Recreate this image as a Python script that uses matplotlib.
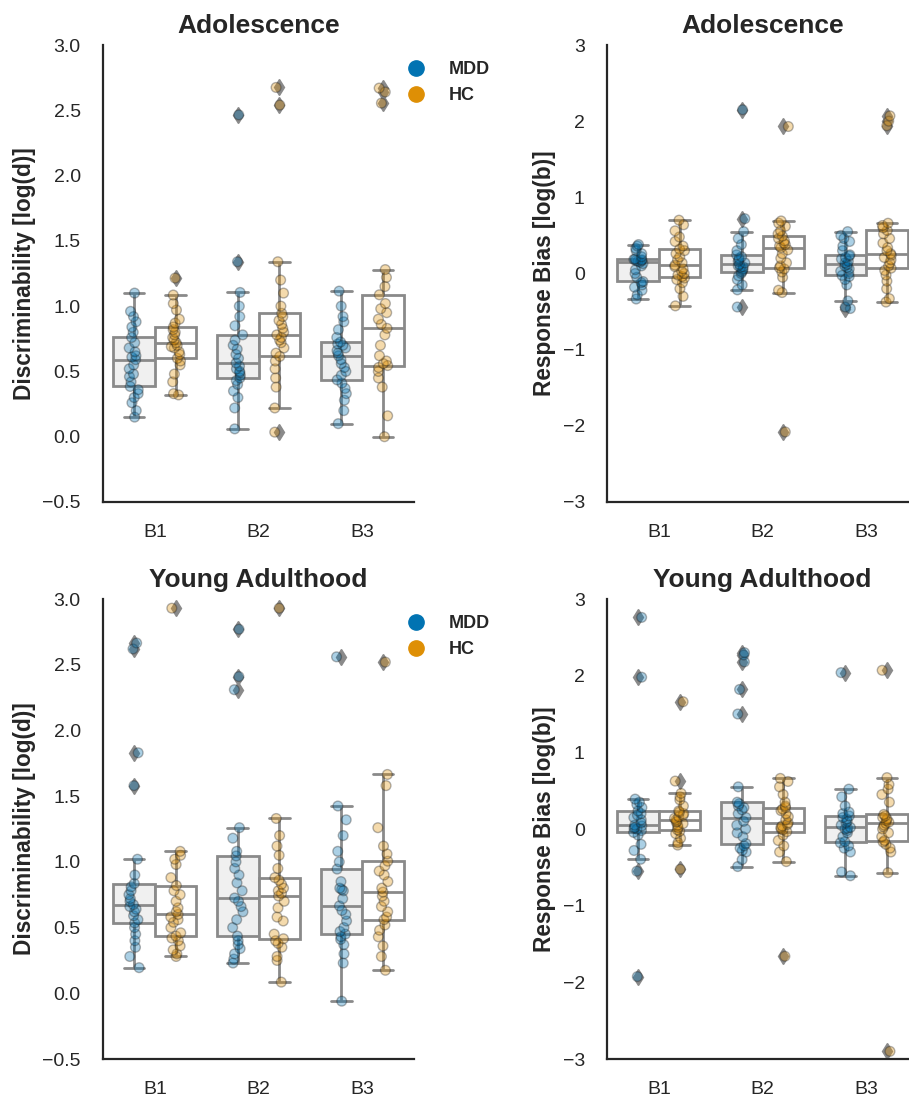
import numpy as np
import pandas as pd
import matplotlib
matplotlib.use("Agg")
import matplotlib.pyplot as plt
from matplotlib.lines import Line2D
import seaborn as sns

# ---------------- data ----------------
blocks = ["B1", "B2", "B3"]
groups = ["MDD", "HC"]

# Adolescence - Discriminability log(d)
adol_d_mdd_b1 = [0.15, 0.20, 0.26, 0.30, 0.33, 0.36, 0.385, 0.42, 0.46, 0.48, 0.52, 0.55, 0.59,
                 0.61, 0.62, 0.65, 0.68, 0.72, 0.76, 0.80, 0.84, 0.88, 0.92, 0.96, 1.10]
adol_d_hc_b1 = [0.32, 0.33, 0.42, 0.48, 0.55, 0.58, 0.60, 0.63, 0.65, 0.68, 0.69, 0.70, 0.72,
                0.74, 0.76, 0.78, 0.80, 0.82, 0.84, 0.87, 0.90, 0.97, 1.02, 1.085, 1.215]
adol_d_mdd_b2 = [0.06, 0.22, 0.30, 0.35, 0.40, 0.43, 0.45, 0.47, 0.49, 0.50, 0.52, 0.54, 0.565,
                 0.60, 0.63, 0.67, 0.70, 0.74, 0.78, 0.85, 0.92, 1.00, 1.105, 1.34, 2.465]
adol_d_hc_b2 = [0.035, 0.22, 0.38, 0.45, 0.52, 0.58, 0.615, 0.64, 0.68, 0.72, 0.74, 0.76, 0.78,
                0.80, 0.83, 0.86, 0.89, 0.92, 0.945, 1.00, 1.10, 1.20, 1.34, 2.54, 2.675]
adol_d_mdd_b3 = [0.10, 0.20, 0.28, 0.33, 0.37, 0.41, 0.435, 0.47, 0.50, 0.53, 0.56, 0.59, 0.62,
                 0.64, 0.66, 0.68, 0.70, 0.71, 0.725, 0.76, 0.82, 0.88, 0.92, 1.00, 1.115]
adol_d_hc_b3 = [0.00, 0.16, 0.38, 0.45, 0.50, 0.53, 0.545, 0.56, 0.58, 0.62, 0.70, 0.78, 0.83,
                0.86, 0.90, 0.95, 0.98, 1.02, 1.087, 1.15, 1.22, 1.28, 2.555, 2.64, 2.67]

# Adolescence - Response bias log(b)
adol_b_mdd_b1 = [-0.335, -0.28, -0.22, -0.18, -0.15, -0.12, -0.105, -0.05, 0.0, 0.05, 0.10, 0.13, 0.15,
                 0.16, 0.17, 0.17, 0.18, 0.185, 0.19, 0.22, 0.26, 0.30, 0.33, 0.36, 0.38]
adol_b_hc_b1 = [-0.425, -0.30, -0.20, -0.12, -0.08, -0.06, -0.04, -0.02, 0.0, 0.03, 0.06, 0.09, 0.11,
                0.14, 0.18, 0.22, 0.26, 0.30, 0.32, 0.36, 0.42, 0.48, 0.56, 0.64, 0.70]
adol_b_mdd_b2 = [-0.44, -0.215, -0.15, -0.08, -0.03, 0.0, 0.02, 0.04, 0.06, 0.08, 0.09, 0.10, 0.12,
                 0.14, 0.16, 0.18, 0.20, 0.22, 0.245, 0.30, 0.38, 0.46, 0.55, 0.72, 2.15]
adol_b_hc_b2 = [-2.08, -0.25, -0.22, -0.05, 0.02, 0.06, 0.075, 0.10, 0.14, 0.20, 0.26, 0.31, 0.34,
                0.36, 0.38, 0.40, 0.43, 0.46, 0.49, 0.52, 0.56, 0.62, 0.66, 0.69, 1.93]
adol_b_mdd_b3 = [-0.46, -0.44, -0.36, -0.15, -0.08, -0.04, -0.025, 0.0, 0.03, 0.06, 0.08, 0.10, 0.12,
                 0.14, 0.16, 0.19, 0.21, 0.23, 0.245, 0.30, 0.36, 0.42, 0.46, 0.50, 0.55]
adol_b_hc_b3 = [-0.375, -0.33, -0.20, -0.10, -0.02, 0.04, 0.07, 0.10, 0.14, 0.18, 0.21, 0.24, 0.26,
                0.30, 0.34, 0.40, 0.46, 0.52, 0.565, 0.60, 0.63, 0.66, 1.94, 2.00, 2.07]

# Young adulthood - Discriminability log(d)
ya_d_mdd_b1 = [0.195, 0.28, 0.35, 0.40, 0.45, 0.50, 0.535, 0.56, 0.59, 0.62, 0.64, 0.66, 0.675,
               0.70, 0.72, 0.75, 0.78, 0.81, 0.835, 0.90, 1.02, 1.58, 1.83, 2.62, 2.665]
ya_d_hc_b1 = [0.28, 0.30, 0.33, 0.36, 0.40, 0.42, 0.435, 0.46, 0.50, 0.54, 0.56, 0.58, 0.60,
              0.62, 0.65, 0.70, 0.75, 0.78, 0.82, 0.88, 0.98, 1.02, 1.05, 1.08, 2.93]
ya_d_mdd_b2 = [0.23, 0.26, 0.30, 0.34, 0.37, 0.40, 0.435, 0.50, 0.56, 0.62, 0.66, 0.70, 0.725,
               0.78, 0.84, 0.90, 0.95, 1.00, 1.045, 1.08, 1.18, 1.26, 2.31, 2.41, 2.77]
ya_d_hc_b2 = [0.085, 0.25, 0.28, 0.35, 0.38, 0.40, 0.415, 0.45, 0.55, 0.58, 0.65, 0.70, 0.74,
              0.76, 0.78, 0.80, 0.83, 0.86, 0.88, 0.95, 1.05, 1.12, 1.20, 1.33, 2.93]
ya_d_mdd_b3 = [-0.06, 0.23, 0.30, 0.37, 0.41, 0.43, 0.45, 0.47, 0.50, 0.55, 0.60, 0.63, 0.665,
               0.72, 0.78, 0.79, 0.80, 0.85, 0.945, 1.00, 1.08, 1.20, 1.32, 1.425, 2.56]
ya_d_hc_b3 = [0.175, 0.28, 0.36, 0.43, 0.48, 0.52, 0.56, 0.58, 0.62, 0.66, 0.70, 0.74, 0.77,
              0.80, 0.85, 0.90, 0.93, 0.97, 1.005, 1.06, 1.12, 1.26, 1.58, 1.665, 2.52]

# Young adulthood - Response bias log(b)
ya_b_mdd_b1 = [-1.925, -0.55, -0.395, -0.28, -0.20, -0.08, -0.045, -0.02, 0.0, 0.01, 0.02, 0.04, 0.05,
               0.08, 0.12, 0.15, 0.18, 0.20, 0.235, 0.28, 0.32, 0.35, 0.39, 1.98, 2.76]
ya_b_hc_b1 = [-0.525, -0.21, -0.18, -0.12, -0.06, -0.03, -0.01, 0.02, 0.05, 0.07, 0.09, 0.10, 0.12,
              0.14, 0.16, 0.18, 0.20, 0.22, 0.235, 0.30, 0.38, 0.42, 0.465, 0.625, 1.66]
ya_b_mdd_b2 = [-0.49, -0.40, -0.30, -0.28, -0.25, -0.22, -0.19, -0.10, -0.05, 0.0, 0.05, 0.10, 0.15,
               0.20, 0.25, 0.28, 0.30, 0.33, 0.35, 0.55, 1.50, 1.82, 2.18, 2.27, 2.30]
ya_b_hc_b2 = [-1.66, -0.425, -0.30, -0.22, -0.15, -0.08, -0.035, -0.01, 0.0, 0.02, 0.04, 0.06, 0.08,
              0.12, 0.16, 0.20, 0.24, 0.26, 0.28, 0.30, 0.35, 0.45, 0.55, 0.62, 0.66]
ya_b_mdd_b3 = [-0.61, -0.56, -0.30, -0.25, -0.22, -0.18, -0.165, -0.10, -0.05, -0.02, 0.0, 0.01, 0.02,
               0.05, 0.08, 0.10, 0.13, 0.15, 0.17, 0.20, 0.22, 0.30, 0.42, 0.52, 2.04]
ya_b_hc_b3 = [-2.9, -0.57, -0.30, -0.25, -0.20, -0.17, -0.15, -0.10, -0.05, 0.0, 0.03, 0.05, 0.075,
              0.09, 0.11, 0.13, 0.15, 0.17, 0.19, 0.35, 0.45, 0.52, 0.58, 0.67, 2.07]

panel_titles = ["Adolescence", "Adolescence", "Young Adulthood", "Young Adulthood"]
panel_ylabels = ["Discriminability [log(d)]", "Response Bias [log(b)]",
                 "Discriminability [log(d)]", "Response Bias [log(b)]"]
disc_ticks = [-0.5, 0.0, 0.5, 1.0, 1.5, 2.0, 2.5, 3.0]
bias_ticks = [-3, -2, -1, 0, 1, 2, 3]

panels = [
    {"MDD": [adol_d_mdd_b1, adol_d_mdd_b2, adol_d_mdd_b3], "HC": [adol_d_hc_b1, adol_d_hc_b2, adol_d_hc_b3]},
    {"MDD": [adol_b_mdd_b1, adol_b_mdd_b2, adol_b_mdd_b3], "HC": [adol_b_hc_b1, adol_b_hc_b2, adol_b_hc_b3]},
    {"MDD": [ya_d_mdd_b1, ya_d_mdd_b2, ya_d_mdd_b3], "HC": [ya_d_hc_b1, ya_d_hc_b2, ya_d_hc_b3]},
    {"MDD": [ya_b_mdd_b1, ya_b_mdd_b2, ya_b_mdd_b3], "HC": [ya_b_hc_b1, ya_b_hc_b2, ya_b_hc_b3]},
]

# ---------------- style ----------------
sns.set_theme(style="white")
plt.rcParams["font.family"] = ["Liberation Sans", "DejaVu Sans"]
plt.rcParams["text.color"] = ".15"
plt.rcParams["axes.labelcolor"] = ".15"
plt.rcParams["xtick.color"] = ".15"
plt.rcParams["ytick.color"] = ".15"

point_colors = {"MDD": "#0173b2", "HC": "#de8f05"}
box_colors = {"MDD": "#f0f0f0", "HC": "#ffffff"}
line_gray = "#8a8a8a"

np.random.seed(3)

fig = plt.figure(figsize=(9.09, 10.98), dpi=100)
W, H = 909.0, 1098.0
rects = [
    [103 / W, 1 - 502 / H, 311 / W, 457 / H],
    [607 / W, 1 - 502 / H, 311 / W, 457 / H],
    [103 / W, 1 - 1059 / H, 311 / W, 460 / H],
    [607 / W, 1 - 1059 / H, 311 / W, 460 / H],
]

for i, (rect, pdata) in enumerate(zip(rects, panels)):
    ax = fig.add_axes(rect)
    rows = []
    for g in groups:
        for b, vals in zip(blocks, pdata[g]):
            for v in vals:
                rows.append({"block": b, "group": g, "value": v})
    df = pd.DataFrame(rows)

    sns.boxplot(data=df, x="block", y="value", hue="group", order=blocks, hue_order=groups,
                palette=box_colors, saturation=1, width=0.8, linecolor=line_gray, linewidth=2,
                flierprops=dict(marker="d", markersize=8, markerfacecolor=line_gray,
                                markeredgecolor=line_gray),
                legend=False, ax=ax)
    sns.stripplot(data=df, x="block", y="value", hue="group", order=blocks, hue_order=groups,
                  palette=point_colors, dodge=True, jitter=True, size=7, alpha=0.33,
                  edgecolor="#1a1a1a", linewidth=1, legend=False, ax=ax)

    ax.set_xlim(-0.5, 2.5)
    if i % 2 == 0:
        ax.set_ylim(-0.5, 3.0)
        ax.set_yticks(disc_ticks)
        ax.set_yticklabels([f"{t:.1f}".replace("-", "\u2212") for t in disc_ticks])
    else:
        ax.set_ylim(-3, 3)
        ax.set_yticks(bias_ticks)
        ax.set_yticklabels([f"{t}".replace("-", "\u2212") for t in bias_ticks])
    ax.set_xlabel("")
    ax.set_ylabel(panel_ylabels[i], fontsize=16.3, fontweight="bold", labelpad=4.5)
    ax.set_title(panel_titles[i], fontsize=19, fontweight="bold", pad=8.5)
    ax.tick_params(axis="y", labelsize=14, pad=16, length=0)
    ax.tick_params(axis="x", labelsize=14, pad=16, length=0)
    for s in ["top", "right"]:
        ax.spines[s].set_visible(False)
    for s in ["left", "bottom"]:
        ax.spines[s].set_color(".15")
        ax.spines[s].set_linewidth(1.6)

    if i % 2 == 0:
        handles = [Line2D([], [], marker="o", linestyle="", markersize=11,
                          markerfacecolor=point_colors[g], markeredgecolor=point_colors[g])
                   for g in groups]
        leg = ax.legend(handles, groups, loc="upper left", bbox_to_anchor=(0.9765, 0.965),
                        frameon=False, borderaxespad=0, borderpad=0, handlelength=1.0,
                        handletextpad=1.35, labelspacing=0.5,
                        prop={"weight": "bold", "size": 13})

fig.savefig("out.png", dpi=100)
